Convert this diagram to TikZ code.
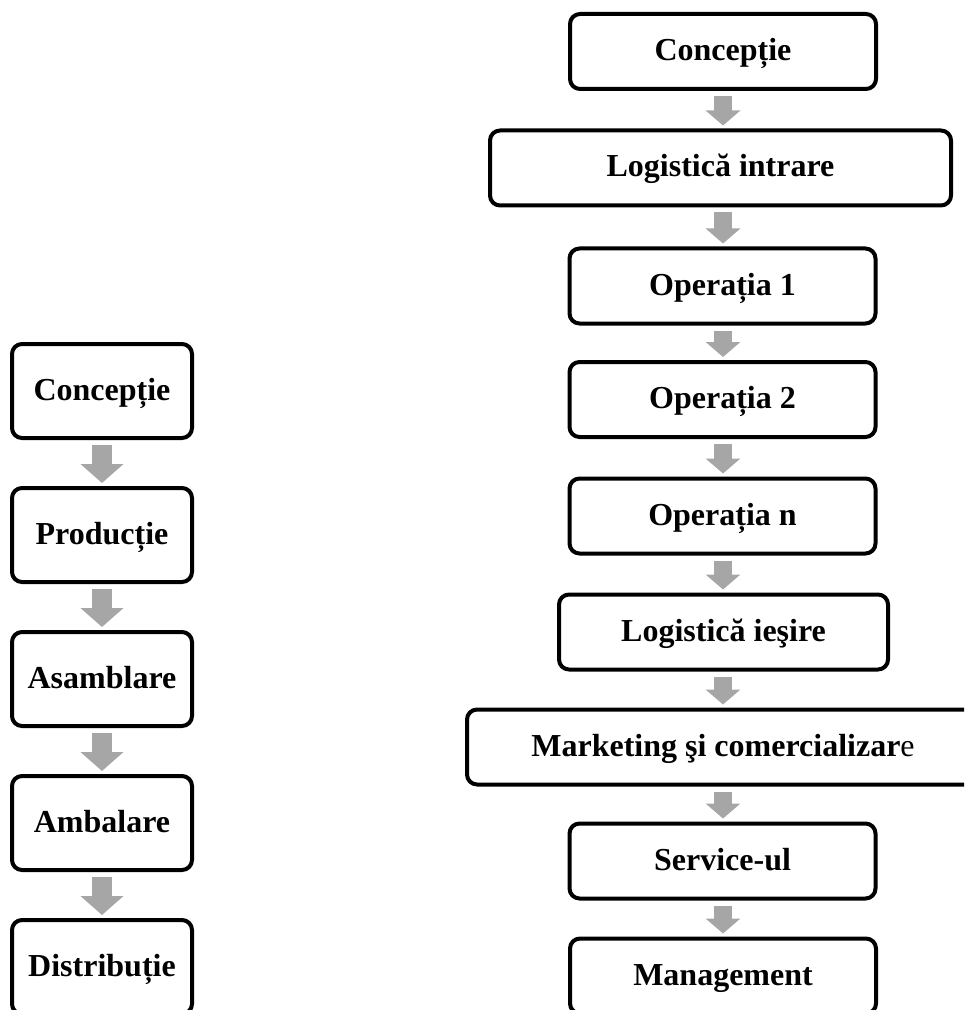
\documentclass[tikz,border=0pt]{standalone}
\usepackage{fontspec}
\setmainfont{Liberation Serif}
\usetikzlibrary{arrows.meta}
\definecolor{arrowgray}{RGB}{166,166,166}
\begin{document}
\begin{tikzpicture}[x=0.5pt,y=-0.5pt, line join=round,
    stepbox/.style={draw, line width=2pt, rounded corners=5pt, fill=white,
        inner sep=0pt, text height=11pt, text depth=2pt,
        font=\bfseries\fontsize{16}{19}\selectfont},
    leftbox/.style={stepbox, minimum width=90pt, minimum height=47pt},
    rightbox/.style={stepbox, minimum width=153pt, minimum height=37.5pt},
    larrow/.style={draw=arrowgray, line width=10pt, shorten <=2.5pt, shorten >=1.5pt,
        -{Triangle[width=21pt,length=9.5pt]}},
    rarrow/.style={draw=arrowgray, line width=9pt, shorten <=2.5pt, shorten >=1.5pt,
        -{Triangle[width=17pt,length=7.5pt]}}]
    \useasboundingbox (0,0) rectangle (964,1010);
    \clip (0,0) rectangle (964,1010);
    % left chain
    \foreach \y/\name/\txt in {391/lconc/Concepție, 535/lprod/Producție,
        679/lasam/Asamblare, 823/lamb/Ambalare, 967/ldist/Distribuție}
        \node[leftbox] (\name) at (102,\y) {\txt};
    \foreach \a/\b in {lconc/lprod, lprod/lasam, lasam/lamb, lamb/ldist}
        \draw[larrow] (\a) -- (\b);
    % right chain
    \node[rightbox] (rconc) at (723,51.5) {Concepție};
    \node[rightbox, minimum width=230.5pt] (rlogin) at (720.5,168) {Logistică intrare};
    \foreach \y/\name/\txt in {286/rop1/Operația 1, 399.5/rop2/Operația 2, 516/ropn/Operația n}
        \node[rightbox] (\name) at (722.5,\y) {\txt};
    \node[rightbox, minimum width=164.5pt] (rlogout) at (723.5,632) {Logistică ieşire};
    \node[rightbox, minimum width=256pt] (rmark) at (723,747)
        {Marketing şi comercializar{\mdseries e}};
    \node[rightbox] (rserv) at (722.5,861) {Service-ul};
    \node[rightbox] (rmgmt) at (723,976) {Management};
    \foreach \a/\b in {rconc/rlogin, rlogin/rop1, rop1/rop2, rop2/ropn, ropn/rlogout,
        rlogout/rmark, rmark/rserv, rserv/rmgmt}
        \draw[rarrow] (\a.south -| 723,0) -- (\b.north -| 723,0);
\end{tikzpicture}
\end{document}
